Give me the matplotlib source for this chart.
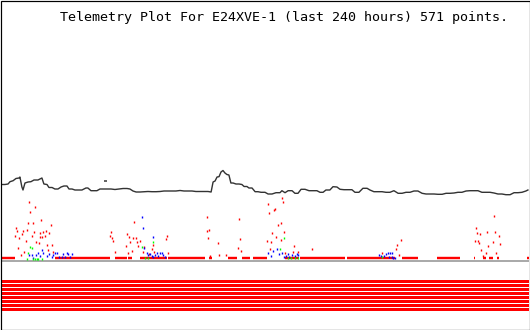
import matplotlib
matplotlib.use("Agg")
import matplotlib.pyplot as plt
from matplotlib.patches import Rectangle

# ---------------- data (hours since start of the 240 h window, arbitrary units) ----
title = "Telemetry Plot For E24XVE-1 (last 240 hours) 571 points."

black_hours = [0.0,1.8,3.2,4.1,5.5,6.8,8.2,8.6,9.5,10.0,10.9,12.3,13.6,15.0,16.8,17.7,18.6,19.5,
               20.9,21.8,23.2,24.5,25.9,27.3,28.6,30.0,30.9,32.3,33.6,35.5,36.8,38.6,39.5,40.9,
               42.3,43.6,45.0,46.4,48.2,50.0,51.8,53.6,55.5,57.3,58.6,60.0,61.4,63.2,65.0,
               66.8,68.6,70.5,72.3,74.1,75.9,77.7,79.5,81.4,83.2,85.0,86.8,88.6,90.5,92.3,94.1,
               95.5,96.4,97.3,98.2,99.1,100.0,100.9,101.8,102.7,103.6,104.5,105.5,106.8,108.2,
               109.5,110.5,111.8,112.7,114.1,115.5,116.8,118.2,120.0,121.4,123.2,125.0,126.8,
               127.7,129.1,130.5,132.3,133.6,135.0,136.4,138.2,140.0,141.8,143.6,145.0,146.4,
               147.7,149.5,150.9,152.7,154.1,155.9,157.7,159.5,160.9,162.7,164.5,166.4,167.7,
               169.5,171.4,173.2,175.0,176.8,178.6,180.5,182.3,184.1,185.9,187.7,189.5,191.4,
               193.2,195.0,196.8,198.6,200.5,202.3,204.1,205.9,207.7,209.5,211.4,213.2,215.0,
               216.8,218.6,220.5,222.3,224.1,225.9,227.7,229.5,231.4,233.2,235.0,236.8,238.6,239.5]
black_values = [76.5,76.5,77,79.3,80.3,82.5,83,84,74,71,78,79,79.3,81,81,82,83,77,
                76.5,73.5,73.5,72,72,74,75,75,72,72,71,71,71,73,73,70.3,
                70.3,70.3,72,72,72,72,71.5,72,72.5,72.5,72,70,69,69,69.3,
                69.5,69.3,69.3,69.5,70,70,70,70,70.5,70,70,70,69.5,69.5,69.5,69.5,
                69,79,80,84,84.3,89,90.5,88,86.5,86,78,78,77,77,
                76.5,74.5,74.5,73,73,69.3,69.3,68.7,68.7,67,67,68.3,68.3,
                70.3,68.3,70.3,70.3,67.7,67.7,71.7,71.7,70.3,70.3,70.3,68.7,68.7,
                71,71,74.3,74,71.7,71.3,71.3,71.3,68.7,68.7,72.7,72.7,71,
                69.3,69.3,69.3,68.7,68.7,70.3,67.7,67.7,68.7,68.7,70,70,67.7,
                67,67,67,66.7,66.7,67.7,67.7,68,68.7,68.7,70,70.3,70.3,
                70.3,68.7,68.7,68.7,68,67,67,66.3,66.3,68.3,68.3,68.7,70,71]
black_stray_hours = [47.3]
black_stray_values = [80.3]

red_hours = [12.9,13.3,15.6,18.3,12.4,14.7,7.0,7.4,6.5,9.4,10.1,12.0,15.0,14.0,8.3,11.4,17.6,
             19.2,20.5,22.0,22.9,16.0,17.1,18.8,20.1,17.9,7.9,21.0,23.3,21.5,10.6,9.0,23.8,
             50.0,49.7,50.6,51.0,51.7,60.6,57.4,58.3,60.1,61.2,58.6,61.7,63.3,57.0,62.1,59.4,
             57.9,64.9,64.4,68.5,69.0,75.6,75.1,76.0,69.5,67.3,
             93.5,93.8,94.7,94.2,108.3,108.8,98.8,107.9,109.2,127.9,128.3,121.5,122.0,124.2,
             124.7,127.4,126.0,128.8,123.3,125.1,121.0,122.9,127.3,133.3,122.4,141.5,132.9,
             135.1,129.2,95.1,99.2,102.3,
             182.0,180.1,179.7,181.0,173.3,224.2,216.0,221.0,224.7,216.5,217.7,226.5,215.6,
             217.0,217.4,223.8,227.0,221.5,218.3,220.6,225.1,218.9]
red_values = [59.3,49.3,54.3,41,38.3,37.7,33.3,30.3,25.3,27,30.3,31,28.7,25,22.7,20.3,28.3,
              28.7,30,28.3,36,19.3,18.3,24.3,25,23.7,13,16,16,11,9.3,6,9.3,
              29.3,25.3,22.7,20.3,9.3,39.3,27,24.3,23.3,23.3,19.3,19.3,20.3,15,15,10.3,
              8.3,13.7,9.3,12,16,25.3,22,8.3,9.3,7,
              44.3,30.3,31,23.3,42,22,18.3,13.3,10.3,63.3,59.3,57,48.3,51,
              52,38.3,36,29.3,28.3,24.3,20.3,19.3,21,15.3,12,11.7,9.3,
              9.3,8.3,5.3,6,6,
              21,16,12,6,7.7,45,33.3,29.3,29.3,28.3,27,25,20.3,
              20.3,18.3,19.3,17,15,11,8.3,8.3,5]

blue_hours = [64.2,64.7,69.2,65.1,
              12.9,14.0,14.7,15.9,17.0,17.7,18.5,19.2,20.8,22.0,23.0,23.8,24.5,25.3,26.5,
              27.6,28.3,29.1,29.9,30.6,31.4,32.1,
              66.2,66.9,67.7,68.5,69.2,70.0,70.8,71.5,72.3,73.0,73.8,74.5,
              121.5,122.6,123.8,125.3,126.5,127.6,128.6,129.5,130.3,131.1,132.1,133.6,134.4,135.1,
              172.0,172.7,174.1,175.0,175.8,176.8,177.9,176.5,177.6,178.3,179.1]
blue_values = [44.3,33,24,13.3,
               6,6,3.3,6,7.7,5,11,7.7,5,6.7,3.7,6,7.7,7.7,4.3,
               4.3,7,3.7,7.7,7,4.3,6.7,
               7.7,6,6.7,5,3.7,6,7.7,5,7.7,8.3,6,4.3,
               8.3,5,10.3,12,6.7,7.7,3.7,5,6.7,4.3,6,5,7,6,
               6,5,5,6.7,8.3,8.3,8.3,4.3,4.3,2.7,2.7]

green_hours = [13.4,13.9,12.4,11.7,14.7,15.5,16.2,17.0,18.5,
               69.0,64.0,65.5,66.8,
               128.8,127.0,130.5,132.0,133.5,135.0,
               173.0]
green_values = [14.5,13.5,8,2,2,2,2,2,2,
                19,14.3,3,3,
                22.7,12,2.7,2.7,2.7,2.7,
                3.7]

# dense low red readings: runs (start hour, end hour, level)
red_run_start = [0.0,24.5,51.8,57.7,63.2,75.9,81.4,94.5,103.2,109.5,114.5,129.1,135.9,157.3,
                 163.2,182.3,198.2,215.0,219.1,221.8,225.5,239.1]
red_run_end   = [6.4,49.5,57.3,59.5,75.5,81.4,92.7,95.9,107.3,113.2,120.9,135.5,156.4,163.2,
                 179.1,189.5,208.6,215.4,220.5,223.6,226.4,240.0]
red_run_level = [3,3,3,3.5,3,3,3,3,3,3,3,3,3,3,3,3,3,3,3.5,3,3,3.5]

bit_names = ["B1","B2","B3","B4","B5","B6","B7","B8"]
bit_state = [1,1,1,1,1,1,1,1]

# ---------------- drawing ----------------
W, H = 530, 330
fig = plt.figure(figsize=(W/100, H/100), dpi=100)
fig.patch.set_facecolor("white")
ax = fig.add_axes([1/W, 1/H, 528/W, 328/H])
ax.set_xlim(0, 240)
ax.set_ylim(-68, 260)
ax.axis("off")

px = 0.72  # one pixel in points

# baseline
ax.axhline(0, color="#aaaaaa", lw=2*px, zorder=1)

# digital channel stripes
for i, (name, st) in enumerate(zip(bit_names, bit_state)):
    ax.barh(-20.5 - 4*i, 240*st, left=0, height=3, color="#ff0000", lw=0, zorder=1)

# dense low red runs
ax.hlines(red_run_level, red_run_start, red_run_end, colors="#ff0000", lw=2.4*px, zorder=3)

mk = dict(linestyle="none", marker="|", markersize=2.4*px, markeredgewidth=1.4*px)
ax.plot(red_hours, red_values, color="#ff0000", zorder=4, **mk)
ax.plot(blue_hours, blue_values, color="#0000ff", zorder=5, **mk)
ax.plot(green_hours, green_values, color="#00ff00", zorder=6, **mk)

# black trace
ax.plot(black_hours, black_values, color="#333333", lw=1.4*px, zorder=7)
ax.plot(black_stray_hours, black_stray_values, color="#333333", linestyle="none",
        marker="_", markersize=3*px, markeredgewidth=1.5*px, zorder=7)

fig.text(60/W, 1 - 21/H, title, fontfamily="DejaVu Sans Mono", fontsize=9.6,
         color="black", va="baseline", ha="left")

fig.add_artist(Rectangle((0.5/W, 0.5/H), 529/W, 329/H, transform=fig.transFigure,
                         fill=False, edgecolor="black", lw=1.2*px))

fig.savefig("out.png", dpi=100)
